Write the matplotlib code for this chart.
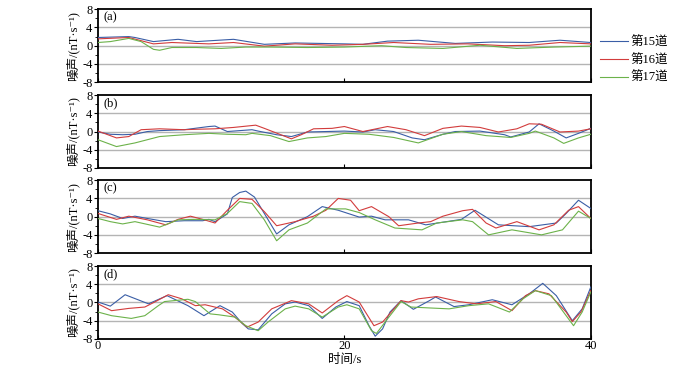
import numpy as np
import matplotlib
matplotlib.use('Agg')
import matplotlib.pyplot as plt
from matplotlib.ticker import MultipleLocator

plt.rcParams['font.family'] = ['Liberation Serif', 'Noto Sans CJK SC', 'DejaVu Serif']
plt.rcParams['axes.unicode_minus'] = False

# 图例名称
names = ['第15道', '第16道', '第17道']
colors = ['#3a5ea6', '#d23c3c', '#6cb24a']
panel_tags = ['(a)', '(b)', '(c)', '(d)']

# (a) 各道噪声: 时间点 / 数值
a15_t = [0, 2.5, 3, 4.5, 6.5, 8, 11, 13.5, 16, 20, 21.5, 23.5, 26, 29, 32, 35, 37.5, 40]
a15_v = [1.8, 2.0, 1.8, 0.9, 1.4, 0.9, 1.4, 0.3, 0.6, 0.4, 0.3, 1.0, 1.2, 0.5, 0.8, 0.7, 1.2, 0.7]
a16_t = [0, 2.5, 4.5, 6, 9, 11, 13.5, 16, 19, 21.5, 24, 27, 30, 33, 35, 37.5, 40]
a16_v = [1.5, 1.8, 0.4, 0.7, 0.4, 0.7, -0.1, 0.4, 0.1, 0.3, 0.7, 0.3, 0.4, 0.0, 0.1, 0.7, 0.4]
a17_t = [0, 1, 2.5, 3.5, 4.5, 5, 6, 8, 10, 12, 14, 17, 20, 23, 25, 28, 31, 34, 37, 40]
a17_v = [0.7, 0.9, 1.6, 0.9, -0.8, -1.0, -0.4, -0.4, -0.6, -0.3, -0.3, -0.4, -0.3, 0.0, -0.4, -0.6, 0.1, -0.6, -0.3, -0.1]

# (b)
b15_t = [0, 1, 2, 3, 4, 5, 7, 9, 9.5, 10.5, 12.5, 13, 14.5, 15.7, 17, 20, 21.5, 22.5, 24, 25.5,
         26.5, 28, 29, 31, 33, 33.5, 35, 35.8, 37, 38, 39, 40]
b15_v = [-0.1, -0.6, -0.7, -0.6, 0.0, 0.2, 0.4, 1.1, 1.2, 0.0, 0.4, 0.1, -0.7, -1.1, -0.1, 0.1, -0.1, 0.4, 0.0, -1.4,
         -1.8, -0.6, 0.0, 0.1, -0.7, -1.2, -0.1, 1.7, 0.1, -1.4, -0.4, 0.7]
b16_t = [0, 1.5, 2.5, 3.5, 5, 7, 8, 9.5, 11, 12.8, 13.5, 15.7, 16.5, 17.5, 19, 20, 21.5, 23.5, 25, 26.5,
         28, 29.5, 31, 32.5, 34, 35, 36, 37.5, 39, 40]
b16_v = [0.1, -1.4, -1.1, 0.4, 0.6, 0.4, 0.5, 0.6, 0.9, 1.4, 0.7, -1.6, -0.7, 0.6, 0.7, 1.1, 0.0, 1.1, 0.4, -0.9,
         0.7, 1.2, 0.9, -0.1, 0.6, 1.7, 1.6, -0.1, 0.1, 0.6]
b17_t = [0, 1.5, 3, 5, 7, 9, 10.5, 12, 12.5, 14, 15.5, 17, 18.5, 20, 22, 24, 26, 28, 29.5, 31.5,
         33.5, 35, 35.5, 37, 37.8, 39, 40]
b17_v = [-1.8, -3.3, -2.5, -1.1, -0.7, -0.4, -0.6, -0.7, -0.4, -0.9, -2.2, -1.4, -1.1, -0.4, -0.6, -1.3, -2.5, -0.6, 0.0, -0.9,
         -1.3, -0.4, 0.1, -1.4, -2.6, -1.4, -0.6]

# (c)
c15_t = [0, 1, 2, 3, 4, 5.5, 7, 8.5, 9, 9.5, 10.5, 10.9, 11.5, 12, 12.7, 13.5, 14.5, 15.5, 17, 18.2,
         19.5, 21.2, 22.2, 23.3, 25.2, 26.6, 29.5, 30.6, 32.5, 35, 37.2, 38, 39, 40]
c15_v = [1.3, 0.6, -0.4, 0.1, -0.4, -1.1, -0.9, -0.9, -0.6, -1.1, 0.6, 4.2, 5.3, 5.6, 4.3, 0.7, -3.8, -1.8, 0.0, 2.2,
         1.4, -0.1, 0.1, -0.7, -0.7, -1.8, -0.6, 1.4, -1.8, -2.2, -1.4, 0.7, 3.6, 1.8]
c16_t = [0, 1.5, 2.5, 4, 5.5, 6.5, 7.5, 8.5, 9.5, 10.5, 11.5, 12.5, 13.5, 14.5, 16, 17.5, 18.5, 19.5, 20.5, 21.2,
         22.2, 23.6, 24.4, 26, 27, 28, 29.6, 30.4, 31.5, 32.3, 34, 35.8, 37, 38.2, 39, 40]
c16_v = [0.7, -0.6, 0.1, -0.7, -1.8, -0.6, 0.1, -0.6, -1.4, 1.4, 4.0, 3.8, 1.1, -2.0, -1.1, 0.1, 1.4, 4.0, 3.6, 1.3,
         2.2, 0.0, -2.0, -1.4, -1.1, 0.1, 1.3, 1.6, -1.4, -2.5, -1.1, -2.9, -1.8, 1.4, 2.2, -0.4]
c17_t = [0, 1, 2, 3, 5, 6.5, 8, 9.5, 10.5, 11.5, 12.5, 13.5, 14.5, 15.5, 17, 18.5, 20.1, 21.2, 22.5, 24.1,
         26.3, 27.5, 29.6, 30.4, 31.7, 33.6, 36, 37.7, 39, 40]
c17_v = [-0.4, -1.1, -1.6, -1.1, -2.3, -0.7, -0.6, -0.7, 0.7, 3.3, 2.9, -0.7, -5.3, -2.9, -1.4, 1.7, 1.7, 0.9, -0.7, -2.5,
         -2.9, -1.4, -0.7, -1.1, -4.0, -2.9, -4.0, -2.9, 1.2, -0.4]

# (d)
d15_t = [0, 1, 2.2, 4.1, 5.6, 7.3, 8.6, 9.9, 10.9, 11.7, 12.2, 13, 14.1, 15.2, 16, 17.1, 18.2, 19.3, 20.2, 21.2,
         22, 22.5, 23.1, 23.7, 24.6, 25.6, 26.9, 27.4, 28.9, 30.1, 32, 33.6, 35, 36.1, 37.2, 38.5, 39.3, 40]
d15_v = [0.1, -0.8, 1.7, -0.3, 1.5, -0.7, -2.9, -0.7, -2.1, -4.6, -5.8, -6.0, -2.5, -0.3, 0.1, -0.7, -3.5, -1.0, 0.2, -0.7,
         -5.1, -7.4, -5.8, -2.1, 0.4, -1.5, 0.4, 1.2, -0.9, -0.5, 0.6, -0.5, 1.9, 4.2, 1.5, -4.0, -1.4, 3.4]
d16_t = [0, 1.1, 2.5, 3.8, 4.6, 5.7, 6.8, 7.9, 8.7, 10.1, 11.1, 12.1, 13, 14.1, 15.7, 17.1, 18.2, 19.5, 20.2, 21.2,
         22.4, 23.1, 24.6, 25.2, 26, 27.5, 29.3, 30.7, 32.3, 33.6, 34.7, 35.5, 36.6, 38, 38.5, 39.2, 40]
d16_v = [-0.3, -1.8, -1.3, -1.0, 0.1, 1.7, 0.8, -0.7, -0.5, -1.4, -3.2, -5.4, -4.3, -1.4, 0.4, -0.3, -2.3, 0.4, 1.5, 0.1,
         -5.1, -4.3, 0.4, 0.1, 0.8, 1.3, 0.2, -0.3, 0.2, -1.8, 1.5, 2.6, 1.9, -2.1, -4.2, -2.1, 2.6]
d17_t = [0, 1.1, 2.7, 3.8, 4.9, 5.4, 7.3, 7.9, 9.1, 9.8, 11.1, 12, 13, 13.8, 15.2, 16, 17.1, 18.2, 19.5, 20.2,
         21.2, 22.2, 22.6, 23.5, 24.6, 25.4, 26.9, 28.5, 30.1, 31.7, 33.4, 34.5, 35.5, 36.8, 38, 38.6, 39.3, 40]
d17_v = [-2.1, -2.9, -3.5, -2.9, -0.7, 0.2, 0.7, 0.2, -2.5, -2.7, -3.2, -5.1, -6.2, -4.3, -1.4, -0.8, -1.4, -3.2, -1.0, -0.5,
         -1.4, -6.2, -6.8, -3.6, 0.2, -1.0, -1.2, -1.4, -0.7, -0.3, -2.1, 0.8, 2.6, 1.5, -2.9, -5.1, -2.1, 2.3]

panels = [
    [(a15_t, a15_v), (a16_t, a16_v), (a17_t, a17_v)],
    [(b15_t, b15_v), (b16_t, b16_v), (b17_t, b17_v)],
    [(c15_t, c15_v), (c16_t, c16_v), (c17_t, c17_v)],
    [(d15_t, d15_v), (d16_t, d16_v), (d17_t, d17_v)],
]

fig = plt.figure(figsize=(7, 3.7), dpi=100)
bottoms = [0.778, 0.546, 0.316, 0.084]
h = 0.197

for k in range(4):
    ax = fig.add_axes([0.14, bottoms[k], 0.704, h])
    for j in range(3):
        t, v = panels[k][j]
        ax.plot(t, v, color=colors[j], lw=0.8, label=names[j], zorder=3,
                solid_joinstyle='round')
    for g in [-4, 0, 4]:
        ax.axhline(g, color='#b4b4b4', lw=1.0, zorder=1)
    ax.set_xlim(0, 40)
    ax.set_ylim(-8, 8)
    ax.set_yticks([-8, -4, 0, 4, 8])
    ax.yaxis.set_minor_locator(MultipleLocator(2))
    ax.set_xticks([0, 20, 40])
    ax.tick_params(axis='y', which='both', direction='out', length=3, labelsize=9, pad=1)
    ax.tick_params(axis='y', which='minor', length=2)
    ax.tick_params(axis='x', direction='in', length=3, labelsize=9, pad=1)
    for s in ax.spines.values():
        s.set_linewidth(1.3)
    ax.text(0.012, 0.85, panel_tags[k], transform=ax.transAxes, fontsize=9)
    ax.set_ylabel('噪声/(nT·s⁻¹)', fontsize=9, labelpad=2)
    if k < 3:
        ax.set_xticklabels([])
    else:
        ax.set_xlabel('时间/s', fontsize=9, labelpad=1)
    if k == 0:
        ax.legend(loc='center left', bbox_to_anchor=(1.0, 0.3), frameon=False, fontsize=9,
                  handlelength=2.3, handletextpad=0.2, labelspacing=0.45, borderaxespad=0.3)

fig.savefig('out.png', dpi=100)
